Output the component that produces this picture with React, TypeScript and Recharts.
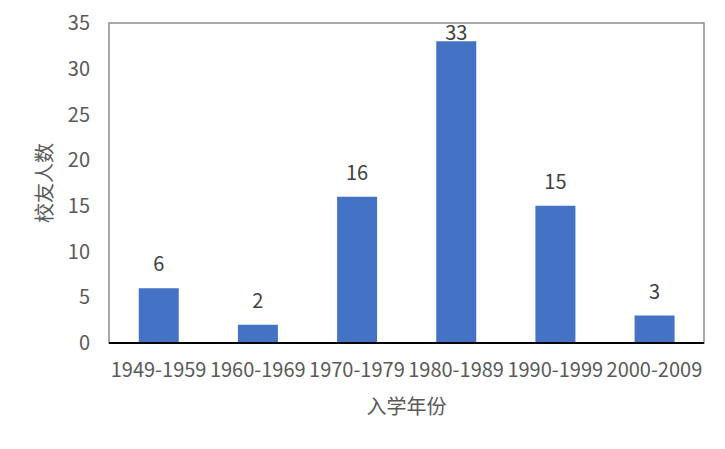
import React from "react"
import {
  Bar,
  BarChart,
  LabelList,
  ReferenceArea,
  XAxis,
  YAxis,
} from "recharts"

const categories = [
  "1949-1959",
  "1960-1969",
  "1970-1979",
  "1980-1989",
  "1990-1999",
  "2000-2009",
]
const alumniCounts = [6, 2, 16, 33, 15, 3]
const yTicks = [0, 5, 10, 15, 20, 25, 30, 35]

const FONT = '"Noto Sans CJK SC", "Noto Sans", sans-serif'
const MARGIN = { top: 23, right: 21, bottom: 0, left: 0 }

const data = categories.map((name, i) => ({ name, value: alumniCounts[i] }))

// Excel-style value label: sits above the bar, but is kept inside the plot area
function ValueLabel(props: any) {
  const { x, y, width, value } = props
  const baseline = Math.max(y - 17, MARGIN.top + 17)
  return (
    <text
      x={x + width / 2}
      y={baseline}
      textAnchor="middle"
      fill="#404040"
      fontSize={20}
      fontFamily={FONT}
    >
      {value}
    </text>
  )
}

export default function App() {
  return (
    <div style={{ position: "absolute", left: 0, top: 0, background: "#fff" }}>
      <BarChart
        width={725}
        height={449}
        data={data}
        margin={MARGIN}
        barCategoryGap="30%"
      >
        <ReferenceArea
          y1={0}
          y2={35}
          fill="none"
          stroke="#8c8c8c"
          strokeWidth={1.5}
          ifOverflow="visible"
        />
        <XAxis
          dataKey="name"
          interval={0}
          height={106}
          tickLine={false}
          tickSize={6}
          tickMargin={14}
          axisLine={{ stroke: "#000", strokeWidth: 2 }}
          tick={{ fill: "#595959", fontSize: 20, fontFamily: FONT }}
          label={{
            value: "入学年份",
            position: "center",
            dy: 11,
            fill: "#595959",
            fontSize: 20,
            fontFamily: FONT,
          }}
        />
        <YAxis
          width={109}
          domain={[0, 35]}
          ticks={yTicks}
          axisLine={false}
          tickLine={false}
          tickSize={6}
          tickMargin={13}
          tick={{ fill: "#595959", fontSize: 20, fontFamily: FONT }}
          label={{
            value: "校友人数",
            angle: -90,
            position: "center",
            dx: -10,
            fill: "#595959",
            fontSize: 20,
            fontFamily: FONT,
          }}
        />
        <Bar dataKey="value" fill="#4472c4" isAnimationActive={false}>
          <LabelList dataKey="value" content={ValueLabel} />
        </Bar>
      </BarChart>
    </div>
  )
}
